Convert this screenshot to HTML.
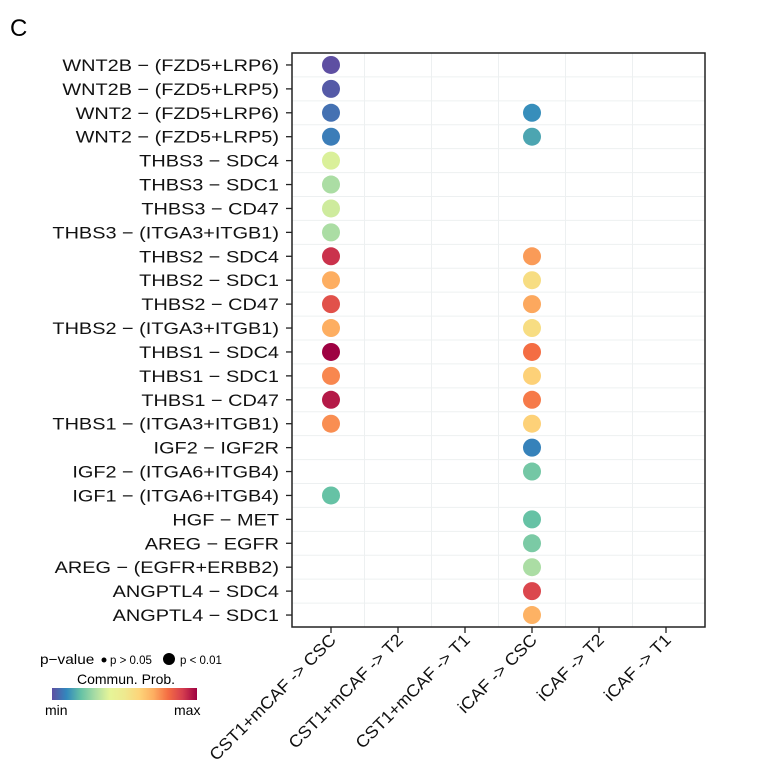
<!DOCTYPE html>
<html><head><meta charset="utf-8"><style>
html,body{margin:0;padding:0;background:#fff;}
svg{display:block;font-family:"Liberation Sans",Arial,sans-serif;}
</style></head><body>
<svg id="chart" width="772" height="778" viewBox="0 0 772 778"></svg>
<script>
const rows=["WNT2B - (FZD5+LRP6)","WNT2B - (FZD5+LRP5)","WNT2 - (FZD5+LRP6)","WNT2 - (FZD5+LRP5)","THBS3 - SDC4","THBS3 - SDC1","THBS3 - CD47","THBS3 - (ITGA3+ITGB1)","THBS2 - SDC4","THBS2 - SDC1","THBS2 - CD47","THBS2 - (ITGA3+ITGB1)","THBS1 - SDC4","THBS1 - SDC1","THBS1 - CD47","THBS1 - (ITGA3+ITGB1)","IGF2 - IGF2R","IGF2 - (ITGA6+ITGB4)","IGF1 - (ITGA6+ITGB4)","HGF - MET","AREG - EGFR","AREG - (EGFR+ERBB2)","ANGPTL4 - SDC4","ANGPTL4 - SDC1"];
const cols=["CST1+mCAF -> CSC","CST1+mCAF -> T2","CST1+mCAF -> T1","iCAF -> CSC","iCAF -> T2","iCAF -> T1"];
const probCol1=[0.0,0.02,0.06,0.08,0.38,0.3,0.36,0.3,0.92,0.7,0.86,0.7,1.0,0.76,0.96,0.75,null,null,0.2,null,null,null,null,null];
const probCol4=[null,null,0.11,0.15,null,null,null,null,0.73,0.56,0.71,0.56,0.8,0.61,0.78,0.61,0.09,0.22,null,0.2,0.23,0.3,0.88,0.69];
const NS="http://www.w3.org/2000/svg";
const svg=document.getElementById('chart');
const palette=["#5e4fa2","#3288bd","#66c2a5","#abdda4","#e6f598","#eee98f","#fdd57a","#fdae61","#f46d43","#d53e4f","#9e0142"];
function hex(h){return[1,3,5].map(i=>parseInt(h.substr(i,2),16));}
function color(v){const t=v*(palette.length-1);const i=Math.min(Math.floor(t),palette.length-2);const f=t-i;const a=hex(palette[i]),b=hex(palette[i+1]);return'rgb('+a.map((c,k)=>Math.round(c+(b[k]-c)*f)).join(',')+')';}
const L=292,R=705,T=53,B=627;
const pad=39;
const colStep=(R-L-2*pad)/(cols.length-1), rowStep=(B-T)/rows.length;
const x=i=>L+pad+colStep*i, y=j=>T+rowStep*(j+0.5);
function el(t,a,p){const e=document.createElementNS(NS,t);for(const k in a)e.setAttribute(k,a[k]);(p||svg).appendChild(e);return e;}
const title=el('text',{x:10,y:36,'font-size':24});title.textContent='C';


for(let i=0;i<cols.length-1;i++){const gx=x(i)+colStep/2;const g=el('line',{x1:gx,x2:gx,y1:T,y2:B,stroke:'#edf0f1','stroke-width':1});

}
for(let j=1;j<rows.length;j++){const g=el('line',{x1:L,x2:R,y1:T+rowStep*j,y2:T+rowStep*j,stroke:'#edf0f1','stroke-width':1});

}
const frame=el('rect',{x:L,y:T,width:R-L,height:B-T,fill:'none',stroke:'#222','stroke-width':1.5});


rows.forEach((r,j)=>{
 el('line',{x1:L-6,x2:L,y1:y(j),y2:y(j),stroke:'#222','stroke-width':1.3});
 const t=el('text',{x:0,y:0,'font-size':17,'text-anchor':'end',fill:'#111',transform:`translate(${L-13},${y(j)+6}) scale(1.17,1)`});t.textContent=r.replace(/ - /g,' \u2212 ');
 
 
});
cols.forEach((c,i)=>{
 el('line',{x1:x(i),x2:x(i),y1:B,y2:B+6,stroke:'#222','stroke-width':1.3});
 const t=el('text',{x:0,y:0,'font-size':17,'text-anchor':'end',fill:'#111',transform:`translate(${x(i)+6},${B+14}) rotate(-45) scale(1.05,1)`});t.textContent=c;
 
 
});
[[0,probCol1],[3,probCol4]].forEach(([ci,arr])=>{
 arr.forEach((v,j)=>{if(v===null)return;
  const d=el('circle',{cx:x(ci),cy:y(j),r:9,fill:color(v)});
  
  
 });
});
const lg=el('g',{});


let t=el('text',{x:40,y:664,'font-size':14,transform:'translate(40,0) scale(1.1,1) translate(-40,0)'},lg);t.textContent='p\u2212value';
el('circle',{cx:104,cy:660,r:2.5,fill:'#000'},lg);
t=el('text',{x:110,y:664,'font-size':11.5},lg);t.textContent='p > 0.05';
el('circle',{cx:169,cy:659,r:6,fill:'#000'},lg);
t=el('text',{x:180,y:664,'font-size':11.5},lg);t.textContent='p < 0.01';
t=el('text',{x:77,y:684,'font-size':14},lg);t.textContent='Commun. Prob.';
const defs=el('defs',{});const grad=el('linearGradient',{id:'cb',x1:0,x2:1,y1:0,y2:0},defs);
palette.forEach((c,i)=>el('stop',{offset:i/(palette.length-1),'stop-color':c},grad));
el('rect',{x:52,y:688,width:145,height:12,fill:'url(#cb)'},lg);
t=el('text',{x:45,y:715,'font-size':14},lg);t.textContent='min';
t=el('text',{x:174,y:715,'font-size':14},lg);t.textContent='max';
</script>
</body></html>
